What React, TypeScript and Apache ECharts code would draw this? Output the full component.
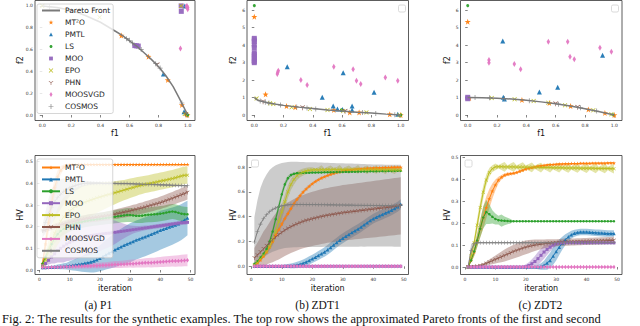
import React, { useEffect, useRef } from 'react';
import * as echarts from 'echarts';

const METHODS = ['MT²O', 'PMTL', 'LS', 'MOO', 'EPO', 'PHN', 'MOOSVGD', 'COSMOS'];
const COLORS = ['#ff7f0e', '#1f77b4', '#2ca02c', '#9467bd', '#bcbd22', '#8c564b', '#e377c2', '#7f7f7f'];

const ITERATIONS = [1,2,3,4,5,6,7,8,9,10,11,12,13,14,15,16,17,18,19,20,21,22,23,24,25,26,27,28,29,30,31,32,33,34,35,36,37,38,39,40,41,42,43,44,45,46,47,48,49];

const X_TICKS_F = [0, 1, 0.2];
const Y_TICKS_P1 = [0, 1, 0.2];
const Y_TICKS_ZDT = [0, 6, 1];
const X_TICKS_ITER = [0, 50, 10];
const Y_TICKS_HV_P1 = [0, 0.5, 0.1];
const Y_TICKS_HV_ZDT1 = [0, 0.8, 0.2];
const Y_TICKS_HV_ZDT2 = [0, 0.5, 0.1];

// ---------- Top row: approximated Pareto fronts ----------
const PF1_FRONT = [[0,1],[0.1,0.985],[0.2,0.96],[0.3,0.91],[0.4,0.85],[0.5,0.77],[0.55,0.73],[0.6,0.68],[0.65,0.63],[0.7,0.57],[0.75,0.51],[0.8,0.443],[0.85,0.36],[0.9,0.26],[0.94,0.16],[0.97,0.08],[1,0]];
const PF1_MT2O = [[0.544,0.728],[0.73,0.535],[0.863,0.321],[0.96,0.092],[0.988,0.015],[0.998,0]];
const PF1_PMTL = [[0.833,0.376],[0.98,1.0],[0.975,0.03]];
const PF1_LS = [[0.99,0.008],[1.0,0.0],[0.995,0.003]];
const PF1_MOO = [[0.636,0.636],[0.648,0.634],[0.66,0.632],[0.956,0.95],[0.955,1.0]];
const PF1_EPO = [[0.0,1.0],[0.394,0.896],[0.955,1.0],[0.98,0.01]];
const PF1_PHN = [[0.79,0.46],[0.985,0.005]];
const PF1_MOOSVGD = [[0.95,0.61],[0.99,0.995],[1.0,0.985],[0.995,1.0],[1.0,0.97]];
const PF1_COSMOS = [[0.05,0.99],[0.17,0.95],[0.58,0.7],[0.6,0.685],[0.62,0.66],[0.68,0.6],[0.78,0.47],[0.81,0.43],[0.96,0.11]];

const PF2_FRONT = [[0,1],[0.02,0.86],[0.05,0.78],[0.1,0.68],[0.15,0.61],[0.2,0.55],[0.3,0.45],[0.4,0.37],[0.5,0.29],[0.6,0.23],[0.7,0.16],[0.8,0.11],[0.9,0.05],[1,0]];
const PF2_MT2O = [[0,5.62],[0.077,1.18],[0.22,0.51],[0.28,0.45],[0.543,0.29],[0.652,0.15],[0.716,0.15],[0.925,0.04],[1.0,0]];
const PF2_PMTL = [[0.225,2.76],[0.607,2.42],[0.464,1.01],[0.539,0.51],[0.568,0.34],[0.602,0.32],[0.668,0.51],[0.668,0.29],[0.818,1.3],[0.98,0.04]];
const PF2_LS = [[0,6.25],[0.595,0.3],[1.0,0.0]];
const PF2_MOO = [[0,4.38],[0,4.29],[0,4.2],[0,4.0],[0,3.84],[0,3.56],[0,3.46],[0,3.36],[0,3.26],[0,3.16],[0,3.06],[0,2.99]];
const PF2_EPO = [[0.016,0.95],[0.107,0.67],[0.13,0.63],[0.255,0.44],[0.38,0.34],[0.5,0.29],[0.607,0.23],[0.766,0.15],[0.993,0]];
const PF2_PHN = [[0.06,0.76],[0.33,0.42],[0.62,0.21]];
const PF2_MOOSVGD = [[0.157,2.34],[0.16,2.44],[0.164,2.53],[0.318,2.0],[0.361,1.71],[0.543,2.76],[0.675,2.61],[0.698,1.96],[0.727,1.77],[0.895,2.15],[0.98,1.96]];
const PF2_COSMOS = [[0.04,0.8],[0.075,0.73],[0.1,0.68],[0.18,0.57],[0.29,0.46],[0.36,0.4],[0.42,0.35],[0.74,0.14],[0.83,0.09],[0.96,0.02]];

const PF3_FRONT = [[0,1],[0.1,0.99],[0.2,0.96],[0.3,0.91],[0.4,0.84],[0.5,0.75],[0.6,0.64],[0.7,0.51],[0.8,0.36],[0.9,0.19],[1,0]];
const PF3_MT2O = [[0,5.33],[0.011,0.97],[0.37,0.86],[0.557,0.69],[0.702,0.51],[0.823,0.32],[0.936,0.12],[1.0,0]];
const PF3_PMTL = [[0.239,4.23],[0.243,1.01],[0.25,0.91],[0.489,1.31],[0.614,1.58],[0.92,3.41]];
const PF3_LS = [[0,6.25],[0.99,0.01]];
const PF3_MOO = [[0,1.01],[0,0.93]];
const PF3_EPO = [[0.164,0.97],[0.32,0.9],[0.45,0.8],[0.55,0.7],[0.664,0.56],[0.857,0.27],[0.98,0.04]];
const PF3_PHN = [[0.6,0.64],[0.75,0.44]];
const PF3_MOOSVGD = [[0.145,3.14],[0.145,2.99],[0.318,2.91],[0.361,2.61],[0.55,4.19],[0.682,4.19],[0.698,3.33],[0.727,3.18],[0.902,3.85],[0.98,3.62]];
const PF3_COSMOS = [[0.05,0.998],[0.15,0.98],[0.25,0.94],[0.42,0.82],[0.62,0.62],[0.77,0.41],[0.88,0.23]];

// ---------- Bottom row: HV per iteration (mean and std) ----------
// (a) P1
const A_MT2O = [0.03,0.12,0.22,0.31,0.38,0.43,0.46,0.475,0.482,0.485,0.486,0.486,0.487,0.487,0.487,0.487,0.487,0.487,0.487,0.487,0.487,0.487,0.487,0.487,0.487,0.487,0.487,0.487,0.487,0.487,0.487,0.487,0.487,0.487,0.487,0.487,0.487,0.487,0.487,0.487,0.487,0.487,0.487,0.487,0.487,0.487,0.487,0.487,0.487];
const A_MT2O_SD = [0.02,0.04,0.05,0.05,0.04,0.03,0.02,0.012,0.008,0.005,0.004,0.003,0.003,0.002,0.002,0.002,0.002,0.002,0.002,0.002,0.002,0.002,0.002,0.002,0.002,0.002,0.002,0.002,0.002,0.002,0.002,0.002,0.002,0.002,0.002,0.002,0.002,0.002,0.002,0.002,0.002,0.002,0.002,0.002,0.002,0.002,0.002,0.002,0.002];
const A_PMTL = [0.012,0.012,0.013,0.013,0.014,0.015,0.016,0.017,0.018,0.02,0.022,0.024,0.026,0.028,0.031,0.034,0.037,0.041,0.047,0.054,0.062,0.07,0.078,0.085,0.093,0.1,0.107,0.114,0.12,0.126,0.132,0.138,0.143,0.149,0.154,0.159,0.165,0.171,0.177,0.183,0.188,0.193,0.198,0.203,0.208,0.214,0.222,0.231,0.24];
const A_PMTL_SD = [0.005,0.005,0.006,0.007,0.008,0.01,0.012,0.014,0.016,0.02,0.024,0.028,0.032,0.036,0.04,0.044,0.048,0.052,0.056,0.06,0.064,0.068,0.072,0.076,0.08,0.082,0.084,0.086,0.088,0.09,0.09,0.09,0.09,0.09,0.09,0.09,0.09,0.09,0.09,0.09,0.089,0.088,0.087,0.086,0.085,0.084,0.083,0.082,0.08];
const A_LS = [0.03,0.06,0.09,0.12,0.145,0.165,0.18,0.19,0.198,0.205,0.21,0.215,0.219,0.222,0.225,0.228,0.23,0.232,0.234,0.236,0.238,0.24,0.242,0.244,0.246,0.248,0.25,0.252,0.254,0.254,0.252,0.25,0.25,0.251,0.253,0.255,0.256,0.257,0.258,0.26,0.262,0.265,0.268,0.27,0.268,0.264,0.26,0.258,0.257];
const A_LS_SD = [0.01,0.015,0.02,0.022,0.024,0.025,0.026,0.027,0.028,0.028,0.028,0.028,0.028,0.028,0.028,0.028,0.028,0.028,0.028,0.028,0.029,0.029,0.03,0.03,0.03,0.031,0.031,0.032,0.032,0.032,0.033,0.033,0.033,0.034,0.034,0.034,0.035,0.035,0.035,0.035,0.035,0.035,0.035,0.035,0.035,0.035,0.034,0.034,0.034];
const A_MOO = [0.02,0.03,0.045,0.06,0.075,0.09,0.1,0.11,0.12,0.128,0.135,0.14,0.145,0.15,0.153,0.156,0.159,0.161,0.163,0.165,0.167,0.169,0.17,0.172,0.174,0.176,0.178,0.18,0.182,0.184,0.186,0.188,0.19,0.192,0.194,0.196,0.198,0.2,0.202,0.204,0.206,0.208,0.21,0.212,0.214,0.216,0.218,0.219,0.22];
const A_MOO_SD = [0.005,0.01,0.02,0.03,0.045,0.055,0.065,0.075,0.08,0.085,0.088,0.09,0.09,0.09,0.09,0.09,0.088,0.085,0.082,0.078,0.074,0.07,0.065,0.06,0.054,0.047,0.04,0.033,0.027,0.022,0.018,0.015,0.013,0.012,0.011,0.01,0.01,0.01,0.01,0.01,0.01,0.01,0.01,0.01,0.01,0.01,0.01,0.01,0.01];
const A_EPO = [0.02,0.05,0.09,0.13,0.17,0.2,0.225,0.245,0.26,0.273,0.284,0.293,0.3,0.307,0.313,0.318,0.323,0.328,0.333,0.337,0.341,0.345,0.349,0.353,0.357,0.361,0.365,0.369,0.373,0.377,0.381,0.385,0.389,0.392,0.395,0.398,0.401,0.404,0.407,0.41,0.413,0.416,0.419,0.422,0.426,0.43,0.434,0.437,0.438];
const A_EPO_SD = [0.01,0.03,0.05,0.07,0.08,0.085,0.09,0.09,0.09,0.09,0.088,0.086,0.084,0.082,0.08,0.078,0.075,0.072,0.07,0.067,0.064,0.061,0.058,0.055,0.053,0.051,0.049,0.047,0.046,0.045,0.044,0.043,0.042,0.041,0.04,0.04,0.04,0.04,0.04,0.04,0.04,0.04,0.04,0.04,0.04,0.04,0.04,0.04,0.04];
const A_PHN = [0.18,0.185,0.19,0.195,0.2,0.204,0.208,0.212,0.216,0.22,0.223,0.226,0.229,0.232,0.235,0.237,0.239,0.241,0.243,0.245,0.247,0.249,0.251,0.254,0.257,0.26,0.263,0.266,0.269,0.272,0.276,0.279,0.283,0.286,0.29,0.294,0.298,0.302,0.306,0.31,0.315,0.32,0.325,0.33,0.336,0.341,0.347,0.352,0.358];
const A_PHN_SD = [0.01,0.01,0.011,0.012,0.013,0.014,0.015,0.015,0.016,0.016,0.017,0.017,0.018,0.018,0.018,0.019,0.019,0.019,0.02,0.02,0.02,0.021,0.021,0.022,0.022,0.023,0.023,0.024,0.024,0.025,0.025,0.025,0.026,0.026,0.027,0.027,0.028,0.028,0.028,0.029,0.029,0.03,0.03,0.03,0.031,0.031,0.032,0.032,0.032];
const A_MOOSVGD = [0.012,0.012,0.012,0.013,0.013,0.013,0.014,0.014,0.015,0.015,0.016,0.016,0.017,0.017,0.018,0.018,0.019,0.02,0.02,0.021,0.022,0.022,0.023,0.024,0.025,0.025,0.026,0.027,0.028,0.029,0.029,0.03,0.031,0.032,0.033,0.034,0.034,0.035,0.036,0.037,0.038,0.039,0.04,0.041,0.041,0.042,0.043,0.044,0.045];
const A_MOOSVGD_SD = [0.004,0.004,0.005,0.005,0.006,0.006,0.007,0.007,0.008,0.008,0.009,0.009,0.01,0.01,0.011,0.011,0.012,0.012,0.013,0.013,0.014,0.014,0.015,0.015,0.016,0.016,0.017,0.017,0.018,0.018,0.019,0.019,0.02,0.02,0.021,0.021,0.022,0.022,0.023,0.023,0.024,0.024,0.025,0.025,0.026,0.026,0.027,0.027,0.028];
const A_COSMOS = [0.18,0.22,0.26,0.29,0.315,0.335,0.35,0.362,0.372,0.38,0.386,0.391,0.395,0.398,0.4,0.401,0.401,0.401,0.401,0.401,0.4,0.4,0.4,0.4,0.4,0.399,0.399,0.399,0.399,0.398,0.398,0.397,0.397,0.396,0.396,0.395,0.395,0.394,0.394,0.393,0.393,0.392,0.392,0.391,0.391,0.39,0.39,0.389,0.389];
const A_COSMOS_SD = [0.03,0.05,0.07,0.08,0.08,0.075,0.07,0.06,0.05,0.04,0.032,0.025,0.02,0.015,0.012,0.01,0.008,0.006,0.005,0.004,0.004,0.004,0.004,0.004,0.004,0.004,0.004,0.004,0.004,0.004,0.004,0.004,0.004,0.004,0.004,0.004,0.004,0.004,0.004,0.004,0.004,0.004,0.004,0.004,0.004,0.004,0.004,0.004,0.004];

// (b) ZDT1
const B_MT2O = [0.008,0.025,0.05,0.08,0.115,0.155,0.2,0.25,0.295,0.34,0.385,0.425,0.465,0.505,0.54,0.57,0.598,0.623,0.645,0.665,0.683,0.698,0.711,0.722,0.732,0.741,0.749,0.756,0.762,0.767,0.771,0.775,0.778,0.781,0.783,0.785,0.787,0.789,0.79,0.791,0.792,0.793,0.794,0.795,0.796,0.797,0.797,0.798,0.798];
const B_MT2O_SD = [0.005,0.008,0.01,0.012,0.014,0.016,0.018,0.02,0.02,0.02,0.02,0.02,0.02,0.019,0.018,0.017,0.016,0.015,0.014,0.013,0.012,0.011,0.01,0.01,0.01,0.009,0.009,0.009,0.008,0.008,0.008,0.008,0.008,0.008,0.008,0.008,0.008,0.008,0.008,0.008,0.008,0.008,0.008,0.008,0.008,0.008,0.008,0.008,0.008];
const B_PMTL = [0,0,0,0,0,0,0,0,0,0,0.001,0.002,0.004,0.007,0.011,0.017,0.025,0.035,0.047,0.06,0.073,0.087,0.101,0.115,0.133,0.152,0.172,0.191,0.21,0.226,0.242,0.257,0.272,0.287,0.3,0.317,0.334,0.351,0.368,0.384,0.396,0.407,0.418,0.429,0.44,0.452,0.465,0.48,0.5];
const B_PMTL_SD = [0.003,0.003,0.003,0.003,0.004,0.005,0.006,0.007,0.008,0.01,0.013,0.016,0.019,0.022,0.025,0.028,0.03,0.032,0.033,0.034,0.035,0.036,0.037,0.038,0.039,0.04,0.04,0.04,0.04,0.04,0.04,0.04,0.04,0.04,0.04,0.04,0.04,0.04,0.04,0.04,0.04,0.04,0.04,0.04,0.04,0.04,0.04,0.04,0.04];
const B_LS = [0.02,0.04,0.07,0.1,0.14,0.2,0.28,0.38,0.48,0.58,0.66,0.71,0.735,0.745,0.75,0.752,0.753,0.754,0.754,0.755,0.755,0.756,0.756,0.757,0.757,0.758,0.758,0.759,0.76,0.76,0.761,0.761,0.762,0.762,0.763,0.763,0.764,0.764,0.765,0.765,0.766,0.766,0.767,0.767,0.768,0.768,0.769,0.769,0.77];
const B_LS_SD = [0.005,0.008,0.012,0.015,0.02,0.025,0.03,0.035,0.035,0.03,0.025,0.02,0.015,0.01,0.008,0.006,0.005,0.005,0.005,0.005,0.005,0.005,0.005,0.005,0.005,0.005,0.005,0.005,0.005,0.005,0.005,0.005,0.005,0.005,0.005,0.005,0.005,0.005,0.005,0.005,0.005,0.005,0.005,0.005,0.005,0.005,0.005,0.005,0.005];
const B_MOO = [0,0,0,0,0,0,0,0,0,0,0,0,0,0,0,0,0,0,0,0,0,0,0,0,0,0,0,0,0,0,0,0,0,0,0,0,0,0,0,0,0,0,0,0,0,0,0,0,0];
const B_MOO_SD = [0,0,0,0,0,0,0,0,0,0,0,0,0,0,0,0,0,0,0,0,0,0,0,0,0,0,0,0,0,0,0,0,0,0,0,0,0,0,0,0,0,0,0,0,0,0,0,0,0];
const B_EPO = [0.01,0.03,0.06,0.09,0.12,0.16,0.21,0.28,0.36,0.44,0.52,0.6,0.66,0.7,0.73,0.748,0.76,0.768,0.773,0.776,0.778,0.776,0.779,0.777,0.78,0.777,0.781,0.778,0.781,0.778,0.781,0.778,0.781,0.778,0.781,0.777,0.78,0.777,0.78,0.777,0.78,0.776,0.779,0.776,0.779,0.776,0.778,0.775,0.777];
const B_EPO_SD = [0.005,0.01,0.015,0.02,0.025,0.03,0.04,0.05,0.06,0.06,0.055,0.05,0.045,0.04,0.035,0.03,0.028,0.026,0.024,0.022,0.012,0.022,0.035,0.012,0.022,0.035,0.012,0.022,0.035,0.012,0.022,0.035,0.012,0.022,0.035,0.012,0.022,0.035,0.012,0.022,0.035,0.012,0.022,0.035,0.012,0.022,0.035,0.012,0.022];
const B_PHN = [0.067,0.09,0.115,0.14,0.165,0.19,0.213,0.235,0.255,0.273,0.29,0.305,0.318,0.33,0.341,0.351,0.36,0.368,0.375,0.382,0.388,0.394,0.4,0.405,0.41,0.414,0.418,0.422,0.426,0.43,0.433,0.436,0.439,0.442,0.445,0.448,0.451,0.454,0.457,0.46,0.463,0.466,0.469,0.472,0.475,0.478,0.481,0.484,0.487];
const B_PHN_SD = [0.08,0.1,0.12,0.14,0.15,0.165,0.18,0.19,0.2,0.205,0.207,0.21,0.211,0.212,0.213,0.214,0.215,0.216,0.217,0.218,0.219,0.22,0.22,0.221,0.221,0.222,0.222,0.223,0.223,0.224,0.224,0.225,0.225,0.225,0.226,0.226,0.226,0.227,0.227,0.227,0.228,0.228,0.228,0.229,0.229,0.229,0.23,0.23,0.23];
const B_MOOSVGD = [0,0,0,0,0,0,0,0,0,0,0,0,0,0,0,0,0,0,0,0,0,0,0,0,0,0,0,0,0,0,0,0,0,0,0,0,0,0,0,0,0,0,0,0,0,0,0,0,0];
const B_MOOSVGD_SD = [0,0,0,0,0,0,0,0,0,0,0,0,0,0,0,0,0,0,0,0,0,0,0,0,0,0,0,0,0,0,0,0,0,0,0,0,0,0,0,0,0,0,0,0,0,0,0,0,0];
const B_COSMOS = [0.196,0.28,0.34,0.385,0.415,0.44,0.458,0.47,0.48,0.487,0.492,0.495,0.497,0.498,0.498,0.498,0.498,0.497,0.497,0.497,0.497,0.496,0.496,0.496,0.495,0.495,0.495,0.494,0.494,0.494,0.493,0.493,0.493,0.492,0.492,0.492,0.491,0.491,0.491,0.49,0.49,0.49,0.49,0.489,0.489,0.489,0.488,0.488,0.488];
const B_COSMOS_SD = [0.2,0.25,0.29,0.31,0.325,0.335,0.34,0.345,0.345,0.345,0.345,0.345,0.345,0.344,0.344,0.343,0.343,0.342,0.342,0.341,0.341,0.34,0.34,0.339,0.339,0.338,0.338,0.337,0.337,0.336,0.336,0.335,0.335,0.334,0.334,0.333,0.333,0.332,0.332,0.331,0.331,0.33,0.33,0.33,0.33,0.33,0.33,0.33,0.33];

// (c) ZDT2
const C_MT2O = [0,0.03,0.068,0.12,0.174,0.225,0.27,0.31,0.345,0.373,0.395,0.408,0.417,0.422,0.424,0.426,0.43,0.435,0.44,0.445,0.449,0.452,0.455,0.458,0.46,0.462,0.464,0.465,0.466,0.467,0.468,0.468,0.469,0.469,0.47,0.47,0.47,0.471,0.471,0.471,0.471,0.472,0.472,0.472,0.472,0.472,0.473,0.473,0.473];
const C_MT2O_SD = [0,0.01,0.02,0.03,0.04,0.05,0.05,0.045,0.035,0.025,0.015,0.01,0.008,0.007,0.006,0.006,0.005,0.005,0.005,0.004,0.004,0.004,0.004,0.004,0.004,0.003,0.003,0.003,0.003,0.003,0.003,0.003,0.003,0.003,0.003,0.003,0.003,0.003,0.003,0.003,0.003,0.003,0.003,0.003,0.003,0.003,0.003,0.003,0.003];
const C_PMTL = [0,0,0,0,0,0,0,0,0,0,0,0,0,0,0,0,0,0,0,0,0,0,0,0,0.002,0.008,0.018,0.03,0.05,0.07,0.09,0.108,0.124,0.137,0.147,0.153,0.157,0.159,0.159,0.159,0.158,0.157,0.156,0.155,0.154,0.153,0.152,0.152,0.152];
const C_PMTL_SD = [0,0,0,0,0,0,0,0,0,0,0,0,0,0,0,0,0,0,0,0,0,0,0.005,0.01,0.015,0.02,0.03,0.035,0.04,0.04,0.035,0.03,0.025,0.02,0.018,0.016,0.015,0.015,0.015,0.015,0.015,0.015,0.015,0.015,0.015,0.015,0.015,0.015,0.015];
const C_LS = [0,0.03,0.07,0.12,0.174,0.225,0.25,0.24,0.228,0.218,0.213,0.211,0.21,0.209,0.208,0.208,0.208,0.208,0.208,0.208,0.208,0.208,0.208,0.208,0.208,0.208,0.208,0.208,0.208,0.208,0.208,0.208,0.208,0.208,0.208,0.208,0.208,0.208,0.208,0.208,0.208,0.208,0.208,0.208,0.208,0.208,0.208,0.208,0.208];
const C_LS_SD = [0,0.01,0.02,0.03,0.04,0.05,0.055,0.045,0.03,0.025,0.02,0.028,0.02,0.015,0.01,0.001,0.001,0.001,0.001,0.001,0.001,0.001,0.001,0.001,0.001,0.001,0.001,0.001,0.001,0.001,0.001,0.001,0.001,0.001,0.001,0.001,0.001,0.001,0.001,0.001,0.001,0.001,0.001,0.001,0.001,0.001,0.001,0.001,0.001];
const C_MOO = [0,0,0,0,0,0,0,0,0,0,0,0,0,0,0,0,0,0,0,0.002,0.007,0.015,0.025,0.038,0.053,0.068,0.08,0.09,0.1,0.106,0.109,0.11,0.11,0.11,0.11,0.11,0.11,0.11,0.11,0.11,0.11,0.11,0.11,0.11,0.11,0.11,0.11,0.11,0.11];
const C_MOO_SD = [0,0,0,0,0,0,0,0,0,0,0,0,0,0,0,0,0,0,0.005,0.01,0.015,0.02,0.025,0.03,0.03,0.03,0.025,0.02,0.015,0.01,0.008,0.006,0.005,0.005,0.005,0.005,0.005,0.005,0.005,0.005,0.005,0.005,0.005,0.005,0.005,0.005,0.005,0.005,0.005];
const C_EPO = [0,0.05,0.11,0.19,0.27,0.34,0.395,0.43,0.447,0.455,0.456,0.456,0.455,0.455,0.455,0.455,0.454,0.454,0.454,0.454,0.453,0.453,0.453,0.453,0.452,0.452,0.452,0.452,0.451,0.451,0.451,0.451,0.45,0.45,0.45,0.45,0.45,0.449,0.449,0.449,0.449,0.449,0.448,0.448,0.448,0.448,0.448,0.447,0.447];
const C_EPO_SD = [0,0.01,0.02,0.03,0.03,0.03,0.025,0.02,0.015,0.015,0.008,0.015,0.022,0.008,0.015,0.022,0.008,0.015,0.022,0.008,0.015,0.022,0.008,0.015,0.022,0.008,0.015,0.022,0.008,0.015,0.022,0.008,0.015,0.022,0.008,0.015,0.022,0.008,0.015,0.022,0.008,0.015,0.022,0.008,0.015,0.022,0.008,0.015,0.022];
const C_PHN = [0,0,0.001,0.003,0.006,0.01,0.016,0.022,0.028,0.034,0.04,0.046,0.052,0.058,0.064,0.07,0.075,0.08,0.085,0.089,0.093,0.096,0.099,0.101,0.103,0.105,0.107,0.108,0.109,0.11,0.111,0.112,0.113,0.113,0.114,0.114,0.115,0.115,0.116,0.116,0.117,0.117,0.118,0.118,0.119,0.119,0.12,0.12,0.121];
const C_PHN_SD = [0,0.001,0.002,0.003,0.005,0.007,0.009,0.012,0.015,0.018,0.021,0.024,0.027,0.029,0.03,0.031,0.032,0.032,0.032,0.031,0.03,0.028,0.026,0.024,0.022,0.02,0.019,0.018,0.017,0.016,0.016,0.016,0.016,0.016,0.016,0.016,0.016,0.016,0.016,0.016,0.016,0.016,0.016,0.016,0.016,0.016,0.016,0.016,0.016];
const C_MOOSVGD = [0,0,0,0,0,0,0,0,0,0,0,0,0,0,0,0,0,0,0,0,0,0,0,0,0,0,0,0,0,0,0,0,0,0,0,0,0,0,0,0,0,0,0,0,0,0,0,0,0];
const C_MOOSVGD_SD = [0,0,0,0,0,0,0,0,0,0,0,0,0,0,0,0,0,0,0,0,0,0,0,0,0,0,0,0,0,0,0,0,0,0,0,0,0,0,0,0,0,0,0,0,0,0,0,0,0];
const C_COSMOS = [0,0.075,0.106,0.11,0.11,0.11,0.11,0.11,0.11,0.11,0.11,0.11,0.11,0.11,0.11,0.11,0.11,0.11,0.11,0.11,0.11,0.11,0.11,0.11,0.11,0.11,0.11,0.11,0.11,0.11,0.11,0.11,0.11,0.11,0.11,0.11,0.11,0.11,0.11,0.11,0.11,0.11,0.11,0.11,0.11,0.11,0.11,0.11,0.11];
const C_COSMOS_SD = [0,0.03,0.01,0.003,0.002,0.002,0.002,0.002,0.002,0.002,0.002,0.002,0.002,0.002,0.002,0.002,0.002,0.002,0.002,0.002,0.002,0.002,0.002,0.002,0.002,0.002,0.002,0.002,0.002,0.002,0.002,0.002,0.002,0.002,0.002,0.002,0.002,0.002,0.002,0.002,0.002,0.002,0.002,0.002,0.002,0.002,0.002,0.002,0.002];

const CAPTIONS = ['(a) P1', '(b) ZDT1', '(c) ZDT2'];
const FIG_CAPTION = 'Fig. 2: The results for the synthetic examples. The top row shows the approximated Pareto fronts of the first and second';

// ---------- marker shapes (10x10 box) ----------
const CIRCLE_PTS = Array.from({ length: 16 }, (_, k) => [5 + 5 * Math.cos((k * Math.PI) / 8), 5 + 5 * Math.sin((k * Math.PI) / 8)]);
const SHAPES: number[][][] = [
  [[5,0],[6.18,3.38],[9.76,3.45],[6.9,5.62],[7.94,9.05],[5,7],[2.06,9.05],[3.1,5.62],[0.24,3.45],[3.82,3.38]],
  [[5,0.5],[9.5,9],[0.5,9]],
  CIRCLE_PTS,
  [[0.5,0.5],[9.5,0.5],[9.5,9.5],[0.5,9.5]],
  [[0,1.2],[1.2,0],[5,3.8],[8.8,0],[10,1.2],[6.2,5],[10,8.8],[8.8,10],[5,6.2],[1.2,10],[0,8.8],[3.8,5]],
  [[4.4,5.4],[4.4,10],[5.6,10],[5.6,5.4],[9.6,3.1],[9,2.1],[5,4.4],[1,2.1],[0.4,3.1]],
  [[5,0],[8,5],[5,10],[2,5]],
  [[4.3,0],[5.7,0],[5.7,4.3],[10,4.3],[10,5.7],[5.7,5.7],[5.7,10],[4.3,10],[4.3,5.7],[0,5.7],[0,4.3],[4.3,4.3]],
];
const ICON_SCALE = [1.0, 0.85, 0.6, 0.85, 0.9, 1.0, 1.0, 1.0];
const ptsPath = (pts: number[][]) => 'M' + pts.map((p) => p[0].toFixed(2) + ',' + p[1].toFixed(2)).join('L') + 'Z';
const SYMBOLS = [
  'path://' + ptsPath(SHAPES[0]),
  'triangle',
  'circle',
  'rect',
  'path://' + ptsPath(SHAPES[4]),
  'path://' + ptsPath(SHAPES[5]),
  'diamond',
  'path://' + ptsPath(SHAPES[7]),
];
// legend icons: drawn inside a 36x10 box (scaled to 18x5), with empty moveTo corners fixing the box
const LEGEND_ICONS = SHAPES.map((pts, m) => {
  const s = ICON_SCALE[m];
  return 'path://M0,0M36,10' + ptsPath(pts.map(([x, y]) => [18 + (x - 5) * s, 5 + (y - 5) * s]));
});
const TOP_SIZES: any[] = [6, 5, 3, 5, 4.5, 5, [3.5, 6], 5];
const LINE_SIZES: any[] = [4, 3.5, 2.5, 3, 3.5, 4, [3, 4.5], 4];

const GRIDS = [
  [42.3, 5.9, 145.4, 109.1],
  [254.3, 10, 146.4, 105],
  [467.7, 10, 146.6, 105],
  [39.5, 161.7, 151, 108.3],
  [251.3, 167, 152.5, 99.3],
  [465, 157, 152, 110],
];
const FRAMES = [
  [35, 0.5, 160, 120],
  [247, 0.5, 161.5, 120],
  [460.5, 0.5, 161.5, 120],
  [35, 155.5, 160, 119],
  [247, 155.5, 161.5, 119],
  [460.5, 155.5, 161.5, 119],
];
const XR = [X_TICKS_F, X_TICKS_F, X_TICKS_F, X_TICKS_ITER, X_TICKS_ITER, X_TICKS_ITER];
const YR = [Y_TICKS_P1, Y_TICKS_ZDT, Y_TICKS_ZDT, Y_TICKS_HV_P1, Y_TICKS_HV_ZDT1, Y_TICKS_HV_ZDT2];
const XDEC = [1, 1, 1, 0, 0, 0];
const YDEC = [1, 0, 0, 1, 1, 1];

const SANS = "'DejaVu Sans', sans-serif";
const SERIF = "'Liberation Serif', 'Times New Roman', serif";

function bandSeries(g: number, mean: number[], sd: number[], color: string) {
  const data = ITERATIONS.map((it, i) => [it, mean[i] - sd[i], mean[i] + sd[i]]);
  return {
    type: 'custom',
    xAxisIndex: g,
    yAxisIndex: g,
    silent: true,
    data,
    encode: { x: 0, y: [1, 2] },
    renderItem: (params: any, api: any) => {
      if (params.dataIndex !== 0) return null;
      const up = data.map((d) => api.coord([d[0], d[2]]));
      const lo = data.map((d) => api.coord([d[0], d[1]])).reverse();
      return {
        type: 'polygon',
        shape: { points: up.concat(lo) },
        style: { fill: color, opacity: 0.4, stroke: 'none' },
      };
    },
  };
}

function buildOption() {
  const grid = GRIDS.map(([l, t, w, h]) => ({
    left: l, top: t, width: w, height: h, containLabel: false, outerBoundsMode: 'none',
  }));
  const axisCommon = {
    type: 'value',
    axisLine: { show: false },
    axisTick: { show: true, length: 2.5, lineStyle: { color: '#333', width: 0.6 } },
    splitLine: { show: false },
  };
  const xAxis = GRIDS.map((G, i) => ({
    ...axisCommon,
    gridIndex: i,
    min: XR[i][0], max: XR[i][1], interval: XR[i][2],
    offset: FRAMES[i][1] + FRAMES[i][3] - (G[1] + G[3]),
    axisLabel: { fontSize: 4.5, margin: 2, color: '#333', fontFamily: SANS, formatter: (v: number) => v.toFixed(XDEC[i]) },
  }));
  const yAxis = GRIDS.map((G, i) => ({
    ...axisCommon,
    gridIndex: i,
    min: YR[i][0], max: YR[i][1], interval: YR[i][2],
    offset: G[0] - FRAMES[i][0],
    axisLabel: { fontSize: 4.5, margin: 2, color: '#333', fontFamily: SANS, formatter: (v: number) => v.toFixed(YDEC[i]) },
  }));

  const series: any[] = [];
  const TOP = [
    [PF1_FRONT, [PF1_MT2O, PF1_PMTL, PF1_LS, PF1_MOO, PF1_EPO, PF1_PHN, PF1_MOOSVGD, PF1_COSMOS]],
    [PF2_FRONT, [PF2_MT2O, PF2_PMTL, PF2_LS, PF2_MOO, PF2_EPO, PF2_PHN, PF2_MOOSVGD, PF2_COSMOS]],
    [PF3_FRONT, [PF3_MT2O, PF3_PMTL, PF3_LS, PF3_MOO, PF3_EPO, PF3_PHN, PF3_MOOSVGD, PF3_COSMOS]],
  ] as any[];
  TOP.forEach(([front, pts]: any, g: number) => {
    series.push({
      type: 'line', name: 'Pareto Front', xAxisIndex: g, yAxisIndex: g, data: front,
      symbol: 'none', showSymbol: false, lineStyle: { color: '#7a7a7a', width: 1.5 },
      itemStyle: { color: '#7a7a7a' }, clip: false, silent: true,
    });
    pts.forEach((d: number[][], m: number) => {
      series.push({
        type: 'scatter', name: METHODS[m], xAxisIndex: g, yAxisIndex: g, data: d,
        symbol: SYMBOLS[m], symbolSize: TOP_SIZES[m], itemStyle: { color: COLORS[m], opacity: 0.95 },
        clip: false, silent: true,
      });
    });
  });

  const BOTTOM = [
    [[A_MT2O, A_PMTL, A_LS, A_MOO, A_EPO, A_PHN, A_MOOSVGD, A_COSMOS],
     [A_MT2O_SD, A_PMTL_SD, A_LS_SD, A_MOO_SD, A_EPO_SD, A_PHN_SD, A_MOOSVGD_SD, A_COSMOS_SD]],
    [[B_MT2O, B_PMTL, B_LS, B_MOO, B_EPO, B_PHN, B_MOOSVGD, B_COSMOS],
     [B_MT2O_SD, B_PMTL_SD, B_LS_SD, B_MOO_SD, B_EPO_SD, B_PHN_SD, B_MOOSVGD_SD, B_COSMOS_SD]],
    [[C_MT2O, C_PMTL, C_LS, C_MOO, C_EPO, C_PHN, C_MOOSVGD, C_COSMOS],
     [C_MT2O_SD, C_PMTL_SD, C_LS_SD, C_MOO_SD, C_EPO_SD, C_PHN_SD, C_MOOSVGD_SD, C_COSMOS_SD]],
  ];
  BOTTOM.forEach(([means, sds], k) => {
    const g = k + 3;
    means.forEach((mean, m) => {
      series.push(bandSeries(g, mean, sds[m], COLORS[m]));
      series.push({
        type: 'line', name: 'hv:' + METHODS[m], xAxisIndex: g, yAxisIndex: g,
        data: ITERATIONS.map((it, i) => [it, mean[i]]),
        symbol: SYMBOLS[m], symbolSize: LINE_SIZES[m], showSymbol: true,
        lineStyle: { color: COLORS[m], width: 1 }, itemStyle: { color: COLORS[m] },
        clip: false, silent: true,
      });
    });
  });

  const legendCommon = {
    orient: 'vertical',
    left: 37,
    itemWidth: 18,
    itemHeight: 5,
    backgroundColor: 'rgba(255,255,255,0.8)',
    borderColor: '#cccccc',
    borderWidth: 0.8,
    borderRadius: 2,
    selectedMode: false,
    textStyle: { fontSize: 7.5, fontFamily: SANS, color: '#222', lineHeight: 8 },
  };
  const legend = [
    {
      ...legendCommon,
      top: 4,
      itemGap: 4,
      padding: [2.5, 3, 3, 4],
      data: [
        { name: 'Pareto Front', itemStyle: { opacity: 0 } },
        ...METHODS.map((m, i) => ({ name: m, icon: LEGEND_ICONS[i] })),
      ],
    },
    {
      ...legendCommon,
      top: 159,
      itemGap: 3.9,
      padding: [4.5, 8, 3, 4],
      data: METHODS.map((m) => 'hv:' + m),
      formatter: (n: string) => n.replace('hv:', ''),
    },
  ];

  const graphic: any[] = [];
  FRAMES.forEach(([x, y, w, h]) => {
    graphic.push({ type: 'rect', z: 100, silent: true, shape: { x, y, width: w, height: h }, style: { fill: 'none', stroke: '#333', lineWidth: 0.8 } });
  });
  [[398.5, 5], [611.5, 5], [251.5, 160], [465, 160]].forEach(([x, y]) => {
    graphic.push({ type: 'rect', z: 100, silent: true, shape: { x, y, width: 7, height: 7, r: 1.5 }, style: { fill: 'rgba(255,255,255,0.8)', stroke: '#d0d0d0', lineWidth: 0.8 } });
  });
  const txt = (text: string, x: number, y: number, size: number, font: string, rot = 0, align = 'center', va = 'middle') => ({
    type: 'text', z: 100, silent: true, x, y, rotation: rot,
    style: { text, fontSize: size, fontFamily: font, fill: '#111', align, textAlign: align, verticalAlign: va, textVerticalAlign: va },
  });
  const colX = [115, 327.7, 541.2];
  const ylabX = [20, 233, 447];
  colX.forEach((cx, i) => {
    graphic.push(txt('f1', cx, 133, 8, SANS));
    graphic.push(txt('f2', ylabX[i], 60, 8, SANS, Math.PI / 2));
    graphic.push(txt('HV', ylabX[i], 215, 8, SANS, Math.PI / 2));
    graphic.push(txt('iteration', cx, 288, 8, SANS));
  });
  const capX = [98.3, 317.5, 540.3];
  CAPTIONS.forEach((c, i) => graphic.push(txt(c, capX[i], 304.5, 11.5, SERIF)));
  graphic.push(txt(FIG_CAPTION, 2, 312, 12.5, SERIF, 0, 'left', 'top'));

  return {
    animation: false,
    backgroundColor: '#ffffff',
    grid,
    xAxis,
    yAxis,
    legend,
    series,
    graphic,
  };
}

export default function App() {
  const ref = useRef<HTMLDivElement>(null);
  useEffect(() => {
    const chart = echarts.init(ref.current as HTMLDivElement, null, { renderer: 'svg', width: 640, height: 326 });
    chart.setOption(buildOption() as any);
    return () => chart.dispose();
  }, []);
  return (
    <div
      ref={ref}
      style={{ position: 'fixed', left: 0, top: 0, width: 640, height: 326, background: '#fff' }}
    />
  );
}
